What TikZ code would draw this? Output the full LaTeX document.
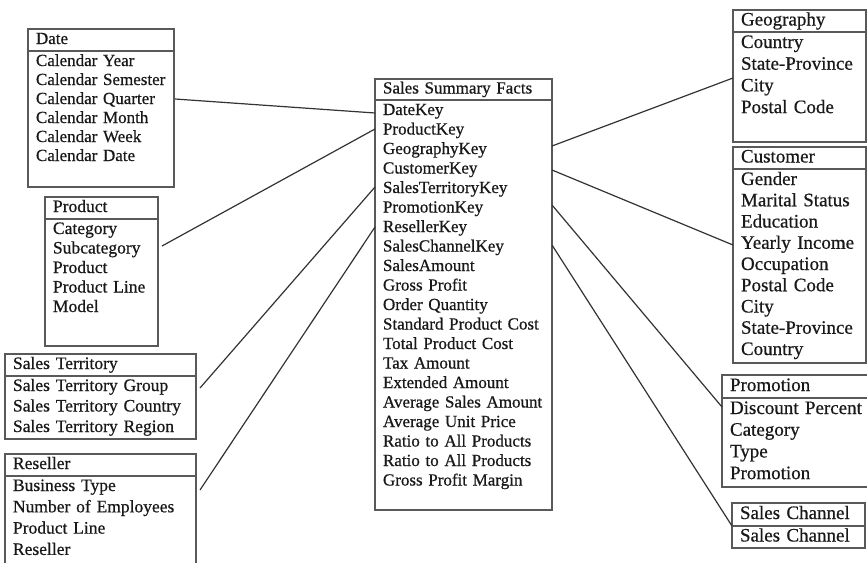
\documentclass[tikz,border=0pt]{standalone}
\usepackage{fontspec}
\setmainfont{Liberation Serif}[FakeBold=0.6, WordSpace=0.8]
\usetikzlibrary{positioning}

\tikzset{
  tbl/.style={draw=black!65, line width=1.2pt, outer sep=0pt, anchor=north west,
              align=left, inner xsep=8pt, text=black!90},
  head/.style={tbl, inner ysep=0pt, minimum height=22pt, text height=12pt, text depth=4pt},
  rows/.style={tbl, inner ysep=3pt, text height=12pt},
  link/.style={draw=black!80, line width=1.2pt},
}

\begin{document}
\begin{tikzpicture}[x=1pt, y=-1pt]

    \fill[white] (0,0) rectangle (867,562);
    \useasboundingbox (0,0) rectangle (867,562);

    % Define nodes: dimension tables on the left
    \node[head, text width=130pt, font=\fontsize{17}{19}\selectfont] (dateH) at (28,29) {Date};
    \node[rows, text width=130pt, text depth=118pt, font=\fontsize{17}{19}\selectfont,
          below=0pt of dateH] (date)
          {Calendar Year\\Calendar Semester\\Calendar Quarter\\Calendar Month\\Calendar Week\\Calendar Date};

    \node[head, text width=97pt, font=\fontsize{17.5}{19.5}\selectfont] (productH) at (45,197) {Product};
    \node[rows, text width=97pt, text depth=109pt, font=\fontsize{17.5}{19.5}\selectfont,
          below=0pt of productH] (product)
          {Category\\Subcategory\\Product\\Product Line\\Model};

    \node[head, text width=175pt, font=\fontsize{17.5}{20.5}\selectfont] (territoryH) at (5,354) {Sales Territory};
    \node[rows, text width=175pt, text depth=45pt, font=\fontsize{17.5}{20.5}\selectfont,
          below=0pt of territoryH] (territory)
          {Sales Territory Group\\Sales Territory Country\\Sales Territory Region};

    \node[head, text width=175pt, font=\fontsize{17.5}{21.3}\selectfont] (resellerH) at (5,454) {Reseller};
    \node[rows, text width=175pt, text depth=81pt, font=\fontsize{17.5}{21.3}\selectfont,
          below=0pt of resellerH] (reseller)
          {Business Type\\Number of Employees\\Product Line\\Reseller};

    % the fact table
    \node[head, text width=161pt, minimum height=21pt, font=\fontsize{17}{19.5}\selectfont] (factsH) at (375,79) {Sales Summary Facts};
    \node[rows, text width=161pt, text depth=392pt, font=\fontsize{17}{19.5}\selectfont,
          below=0pt of factsH] (facts)
          {DateKey\\ProductKey\\GeographyKey\\CustomerKey\\SalesTerritoryKey\\PromotionKey\\
           ResellerKey\\SalesChannelKey\\SalesAmount\\Gross Profit\\Order Quantity\\
           Standard Product Cost\\Total Product Cost\\Tax Amount\\Extended Amount\\
           Average Sales Amount\\Average Unit Price\\Ratio to All Products\\
           Ratio to All Products\\Gross Profit Margin};

    % dimension tables on the right
    \node[head, text width=117pt, text height=13pt, font=\fontsize{19}{21.7}\selectfont] (geographyH) at (733,10) {Geography};
    \node[rows, text width=117pt, text height=13pt, text depth=91pt, font=\fontsize{19}{21.7}\selectfont,
          below=0pt of geographyH] (geography)
          {Country\\State-Province\\City\\Postal Code};

    \node[head, text width=117pt, text height=13pt, font=\fontsize{19}{21.25}\selectfont] (customerH) at (733,147) {Customer};
    \node[rows, text width=117pt, text height=13pt, text depth=175pt, font=\fontsize{19}{21.25}\selectfont,
          below=0pt of customerH] (customer)
          {Gender\\Marital Status\\Education\\Yearly Income\\Occupation\\Postal Code\\City\\State-Province\\Country};

    \node[head, text width=137pt, minimum height=23pt, text height=13pt, font=\fontsize{19}{21.7}\selectfont] (promotionH) at (722,375) {Promotion};
    \node[rows, text width=137pt, text height=13pt, text depth=70pt, font=\fontsize{19}{21.7}\selectfont,
          below=0pt of promotionH] (promotion)
          {Discount Percent\\Category\\Type\\Promotion};

    \node[head, text width=117pt, minimum height=23pt, text height=13pt, font=\fontsize{19}{22}\selectfont] (channelH) at (732,503) {Sales Channel};
    \node[head, text width=117pt, text height=13pt, font=\fontsize{19}{22}\selectfont,
          below=0pt of channelH] (channel) {Sales Channel};

    % Connect the nodes
    \draw[link] ([xshift=1pt, yshift=-48pt]date.north east)      -- ([yshift=-13pt]facts.north west);
    \draw[link] ([xshift=4pt, yshift=-27pt]product.north east)   -- ([yshift=-29pt]facts.north west);
    \draw[link] ([xshift=4pt, yshift=-12pt]territory.north east) -- ([yshift=-87pt]facts.north west);
    \draw[link] ([xshift=4pt, yshift=-14pt]reseller.north east)  -- ([yshift=-127pt]facts.north west);

    \draw[link] ([yshift=-46pt]facts.north east)  -- ([yshift=-46pt]geography.north west);
    \draw[link] ([yshift=-70pt]facts.north east)  -- ([yshift=-76pt]customer.north west);
    \draw[link] ([yshift=-105pt]facts.north east) -- ([yshift=-9pt]promotion.north west);
    \draw[link] ([yshift=-145pt]facts.north east) -- (channel.north west);

\end{tikzpicture}
\end{document}
